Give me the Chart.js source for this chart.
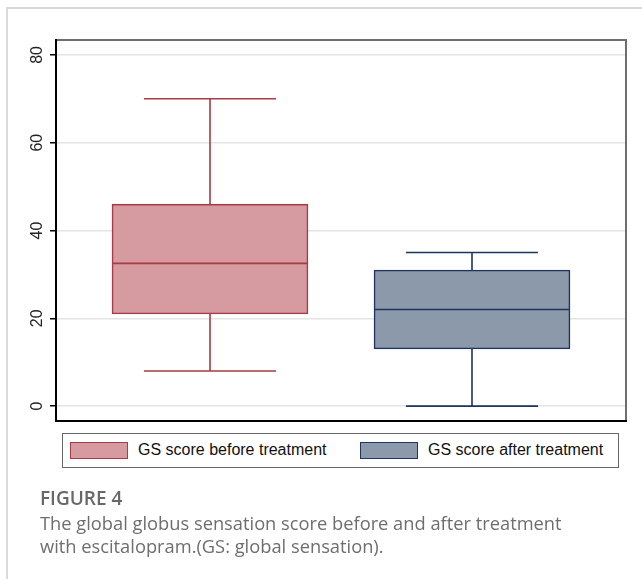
<!DOCTYPE html>
<html>
<head>
<meta charset="utf-8">
<script src="https://cdn.jsdelivr.net/npm/chart.js@4/dist/chart.umd.min.js"></script>
<style>
  html, body { margin: 0; padding: 0; background: #fff; }
  #wrap { position: relative; width: 642px; height: 579px; overflow: hidden; }
  #frame { position: absolute; left: 6px; top: 7px; width: 700px; height: 700px;
           border-left: 2px solid #dadada; border-top: 2px solid #dadada; }
  #chart { position: absolute; left: 0; top: 0; }
  #legend { position: absolute; left: 62px; top: 433px; width: 557px; height: 35px;
            border: 1.5px solid #666; box-sizing: border-box; background: #fff;
            font-family: 'Liberation Sans', Arial, sans-serif; font-size: 16px; color: #111; }
  .item { position: absolute; top: 0; height: 32px; display: flex; align-items: center; white-space: nowrap; }
  .sw { width: 56px; height: 15px; margin-right: 10px; border: 1.5px solid; }
  #caption { position: absolute; left: 40px; top: 486px; font-family: 'Open Sans', sans-serif; color: #6e6e6e; }
  #caption .fig { font-size: 19px; font-weight: 600; color: #686868; line-height: 24px; }
  #caption .txt { font-size: 18.3px; line-height: 23px; margin-top: 1px; }
</style>
</head>
<body>
<div id="wrap">
  <div id="frame"></div>
  <canvas id="chart" width="642" height="579"></canvas>
  <div id="legend"></div>
  <div id="caption">
    <div class="fig">FIGURE 4</div>
    <div class="txt">The global globus sensation score before and after treatment<br>with escitalopram.(GS: global sensation).</div>
  </div>
</div>
<script>
// ---- data ----
const categories = ['GS score before treatment', 'GS score after treatment'];
const minValues = [8, 0];
const q1Values = [21, 13];
const medianValues = [32.5, 22];
const q3Values = [46, 31];
const maxValues = [70, 35];
const yTickValues = [0, 20, 40, 60, 80];

// ---- styles ----
const fillColors = ['#d69ba0', '#8c99aa'];
const lineColors = ['#a83b45', '#1f3560'];
const legendLefts = [7, 297];

// legend (HTML)
const legend = document.getElementById('legend');
categories.forEach((c, i) => {
  const it = document.createElement('div');
  it.className = 'item';
  it.style.left = legendLefts[i] + 'px';
  const sw = document.createElement('div');
  sw.className = 'sw';
  sw.style.background = fillColors[i];
  sw.style.borderColor = lineColors[i];
  const tx = document.createElement('span');
  tx.textContent = c;
  it.appendChild(sw); it.appendChild(tx);
  legend.appendChild(it);
});

const framePlugin = {
  id: 'frame',
  beforeDatasetsDraw(chart) {
    const { ctx, chartArea: a } = chart;
    ctx.save();
    ctx.lineWidth = 2;
    ctx.strokeStyle = '#6e6e6e';
    ctx.beginPath();
    ctx.moveTo(a.left, a.top); ctx.lineTo(a.right, a.top); ctx.lineTo(a.right, a.bottom);
    ctx.stroke();
    ctx.strokeStyle = '#000';
    ctx.beginPath();
    ctx.moveTo(a.left, a.top - 1); ctx.lineTo(a.left, a.bottom); ctx.lineTo(a.right + 1, a.bottom);
    ctx.stroke();
    ctx.restore();
  }
};

const boxPlugin = {
  id: 'boxWhiskers',
  afterDatasetsDraw(chart) {
    const { ctx } = chart;
    const ys = chart.scales.y;
    chart.data.datasets.forEach((ds, di) => {
      const meta = chart.getDatasetMeta(di);
      meta.data.forEach((el) => {
        const i = ds.catIndex;
        const x = el.x, half = el.width / 2, cap = el.width * 0.337;
        const pMed = ys.getPixelForValue(medianValues[i]);
        const pQ1 = ys.getPixelForValue(q1Values[i]);
        const pQ3 = ys.getPixelForValue(q3Values[i]);
        const pMin = ys.getPixelForValue(minValues[i]);
        const pMax = ys.getPixelForValue(maxValues[i]);
        ctx.save();
        ctx.strokeStyle = lineColors[i];
        ctx.lineWidth = 1.6;
        ctx.beginPath();
        ctx.moveTo(x - half, pMed); ctx.lineTo(x + half, pMed);
        ctx.moveTo(x, pQ3); ctx.lineTo(x, pMax);
        ctx.moveTo(x - cap, pMax); ctx.lineTo(x + cap, pMax);
        ctx.moveTo(x, pQ1); ctx.lineTo(x, pMin);
        ctx.moveTo(x - cap, pMin); ctx.lineTo(x + cap, pMin);
        ctx.stroke();
        ctx.restore();
      });
    });
  }
};

new Chart(document.getElementById('chart'), {
  type: 'bar',
  data: {
    datasets: categories.map((c, i) => ({
      label: c,
      catIndex: i,
      data: [{ x: i + 1, y: [q1Values[i], q3Values[i]] }],
      backgroundColor: fillColors[i],
      borderColor: lineColors[i],
      borderWidth: 1.6,
      borderSkipped: false,
      barThickness: 196,
      grouped: false
    }))
  },
  options: {
    responsive: false,
    animation: false,
    devicePixelRatio: 1,
    events: [],
    layout: { padding: { left: 0, top: 40, right: 16, bottom: 158 } },
    plugins: { legend: { display: false }, tooltip: { enabled: false }, title: { display: false } },
    scales: {
      x: { type: 'linear', min: 0.4122, max: 2.5878, offset: false, display: false },
      y: {
        min: -3.4, max: 83.4,
        afterBuildTicks: (s) => { s.ticks = yTickValues.map(v => ({ value: v })); },
        afterFit: (s) => { s.width = 56; },
        border: { display: false },
        grid: { color: '#e4e4e4', lineWidth: 1.5, tickLength: 6, tickColor: '#000', tickWidth: 1.5 },
        ticks: {
          minRotation: 90, maxRotation: 90, crossAlign: 'center', padding: 4,
          color: '#222', font: { family: "'Liberation Sans', Arial, sans-serif", size: 16 }
        }
      }
    }
  },
  plugins: [framePlugin, boxPlugin]
});
</script>
</body>
</html>
